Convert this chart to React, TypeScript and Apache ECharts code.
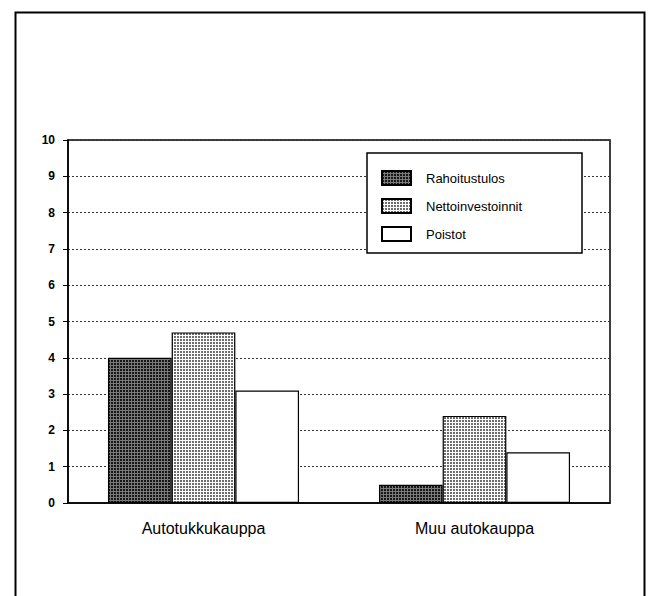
import React, { useEffect, useRef } from "react";
import * as echarts from "echarts";

const categories = ["Autotukkukauppa", "Muu autokauppa"];
const seriesNames = ["Rahoitustulos", "Nettoinvestoinnit", "Poistot"];
const rahoitustulos = [4.0, 0.5];
const nettoinvestoinnit = [4.7, 2.4];
const poistot = [3.1, 1.4];
const yTicks = [0, 1, 2, 3, 4, 5, 6, 7, 8, 9, 10];

function makePattern(bg: string, fg: string, cells: [number, number][]) {
  const c = document.createElement("canvas");
  c.width = 3;
  c.height = 3;
  const ctx = c.getContext("2d")!;
  ctx.fillStyle = bg;
  ctx.fillRect(0, 0, 3, 3);
  ctx.fillStyle = fg;
  cells.forEach(([x, y]) => ctx.fillRect(x, y, 1, 1));
  return { image: c, repeat: "repeat", imageWidth: 3, imageHeight: 3 } as any;
}

export default function App() {
  const ref = useRef<HTMLDivElement>(null);
  useEffect(() => {
    document.body.style.margin = "0";
    const chart = echarts.init(ref.current!, null, { renderer: "svg" });
    const dark = makePattern("#7a7a7a", "#161616", [
      [0, 0], [1, 0], [0, 1], [1, 1],
    ]);
    const light = makePattern("#ffffff", "#6e6e6e", [
      [0, 0], [1, 0], [0, 1], [1, 1],
    ]);
    const font = "'Liberation Sans', Arial, Helvetica, sans-serif";
    const values = [rahoitustulos, nettoinvestoinnit, poistot];
    const fills = [dark, light, "#ffffff"];
    chart.setOption({
      animation: false,
      backgroundColor: "#ffffff",
      textStyle: { fontFamily: font },
      grid: {
        left: 68,
        right: 50,
        top: 140,
        bottom: 93,
        show: true,
        borderColor: "#000",
        borderWidth: 1.5,
        backgroundColor: "transparent",
      },
      xAxis: {
        type: "category",
        data: categories,
        axisLine: { show: true, lineStyle: { color: "#000", width: 1.5 } },
        axisTick: { show: false },
        axisLabel: { color: "#000", fontSize: 16, margin: 17, fontFamily: font },
      },
      yAxis: {
        type: "value",
        min: yTicks[0],
        max: yTicks[yTicks.length - 1],
        interval: 1,
        axisLine: { show: true, lineStyle: { color: "#000", width: 1.5 } },
        axisTick: { show: true, length: 5, lineStyle: { color: "#000", width: 1 } },
        axisLabel: { color: "#000", fontSize: 12, fontWeight: "bold", margin: 13, fontFamily: font },
        splitLine: { show: true, lineStyle: { color: "#333", width: 1, type: [2, 2] } },
      },
      legend: {
        orient: "vertical",
        left: 381,
        top: 170,
        padding: 0,
        itemWidth: 29,
        itemHeight: 14,
        itemGap: 12,
        icon: "rect",
        z: 20,
        data: seriesNames,
        textStyle: { color: "#000", fontSize: 13, fontFamily: font, padding: [0, 0, 0, 10] },
      },
      graphic: [
        {
          type: "rect",
          z: 15,
          shape: { x: 367, y: 153, width: 215, height: 100 },
          style: { fill: "#fff", stroke: "#000", lineWidth: 1.5 },
        },
        {
          type: "rect",
          z: 15,
          shape: { x: 15.5, y: 12.5, width: 629, height: 620 },
          style: { fill: "none", stroke: "#000", lineWidth: 2 },
        },
      ],
      series: seriesNames.map((name, i) => ({
        name,
        type: "bar",
        data: values[i],
        barGap: "0%",
        barCategoryGap: "29.5%",
        itemStyle: { color: fills[i], borderColor: "#000", borderWidth: 1.2 },
      })),
    });
    return () => chart.dispose();
  }, []);
  return (
    <div
      ref={ref}
      style={{ position: "fixed", left: 0, top: 0, width: 660, height: 596 }}
    />
  );
}
